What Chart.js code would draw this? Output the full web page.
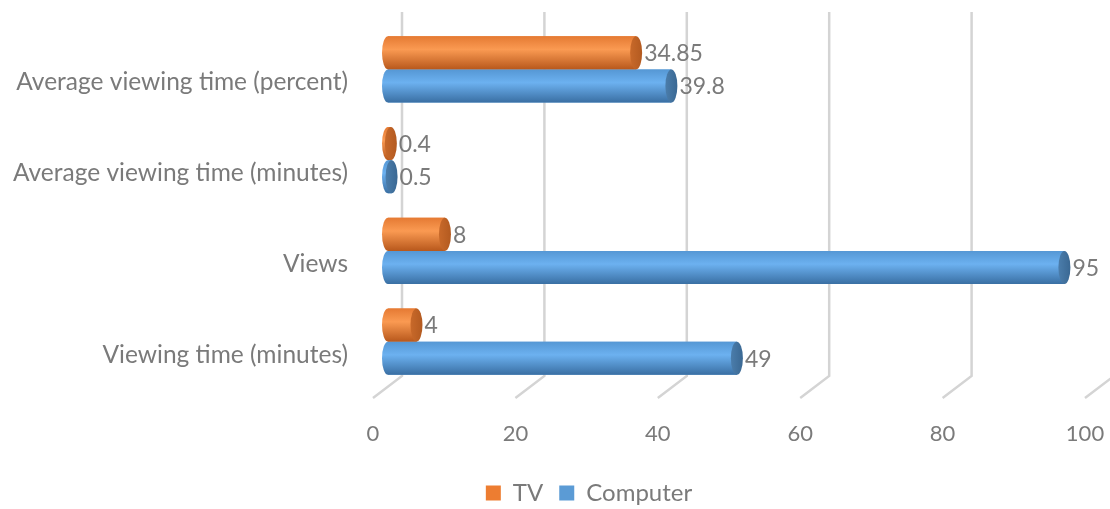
<!DOCTYPE html>
<html>
<head>
<meta charset="utf-8">
<script src="https://cdn.jsdelivr.net/npm/chart.js@4.4.1/dist/chart.umd.min.js"></script>
<style>
  html, body { margin: 0; padding: 0; background: #fff; }
  #wrap { width: 1110px; height: 509px; }
</style>
</head>
<body>
<div id="wrap"><canvas id="chart" width="1110" height="509"></canvas></div>
<script>
// data
const categories = ["Average viewing time (percent)", "Average viewing time (minutes)", "Views", "Viewing time (minutes)"];
const tvValues = [34.85, 0.4, 8, 4];
const computerValues = [39.8, 0.5, 95, 49];
const xTicks = [0, 20, 40, 60, 80, 100];

const FONT = "Lato";
const GRAY = "#7a7a7a";

// shades for the cylinder look
const shades = {
  TV: { top: "#e57a33", mid: "#fa9a52", bottom: "#b8581c", cap: "#b35a20", capLight: "#c8692a" },
  Computer: { top: "#5597d4", mid: "#6cb1f0", bottom: "#3a6fa3", cap: "#3a6893", capLight: "#4b7dab" }
};

// scales must not push the plot area around with their label overhang
function noPad(scale) {
  scale.paddingTop = 0; scale.paddingBottom = 0;
  scale.paddingLeft = 0; scale.paddingRight = 0;
}

// legend sits a bit right of the canvas centre in the original
const legendShift = {
  id: "legendShift",
  afterLayout(chart) {
    const lg = chart.legend;
    if (!lg) return;
    lg.left += 78;
    lg.top = 509 - lg.height + 6;
  }
};

// back wall grid lines with the little floor diagonal
const grid3d = {
  id: "grid3d",
  beforeDatasetsDraw(chart) {
    const { ctx, chartArea, scales } = chart;
    ctx.save();
    ctx.strokeStyle = "#d4d4d4";
    ctx.lineWidth = 2.5;
    xTicks.forEach(v => {
      const gx = scales.x.getPixelForValue(v) + 14;
      ctx.beginPath();
      ctx.moveTo(gx, chartArea.top - 12);
      ctx.lineTo(gx, chartArea.bottom - 11);
      ctx.lineTo(gx - 29, chartArea.bottom + 11);
      ctx.stroke();
    });
    ctx.restore();
  }
};

// paint each bar as a cylinder and put its value next to the cap
const cylinders = {
  id: "cylinders",
  afterDatasetsDraw(chart) {
    const ctx = chart.ctx;
    chart.data.datasets.forEach((ds, di) => {
      const meta = chart.getDatasetMeta(di);
      const c = shades[ds.label];
      meta.data.forEach((bar, i) => {
        const h = bar.height, top = bar.y - h / 2, bottom = bar.y + h / 2;
        const rx = 6;
        const g = ctx.createLinearGradient(0, top, 0, bottom);
        g.addColorStop(0, c.top);
        g.addColorStop(0.4, c.mid);
        g.addColorStop(1, c.bottom);
        ctx.save();
        ctx.fillStyle = g;
        ctx.beginPath();
        ctx.moveTo(bar.base, top);
        ctx.lineTo(bar.x, top);
        ctx.lineTo(bar.x, bottom);
        ctx.lineTo(bar.base, bottom);
        ctx.ellipse(bar.base, bar.y, rx, h / 2, 0, Math.PI / 2, Math.PI * 3 / 2);
        ctx.closePath();
        ctx.fill();

        const cg = ctx.createLinearGradient(bar.x - rx, 0, bar.x + rx, 0);
        cg.addColorStop(0, c.capLight);
        cg.addColorStop(1, c.cap);
        ctx.fillStyle = cg;
        ctx.beginPath();
        ctx.ellipse(bar.x, bar.y, rx, h / 2, 0, 0, Math.PI * 2);
        ctx.fill();

        ctx.fillStyle = GRAY;
        ctx.font = "23px " + FONT;
        ctx.textBaseline = "middle";
        ctx.textAlign = "left";
        ctx.fillText(String(ds.data[i]), bar.x + rx + 2, bar.y + 1);
        ctx.restore();
      });
    });
  }
};

new Chart(document.getElementById("chart"), {
  type: "bar",
  data: {
    labels: categories,
    datasets: [
      { label: "TV", data: tvValues, backgroundColor: "#ed7d31" },
      { label: "Computer", data: computerValues, backgroundColor: "#5b9bd5" }
    ]
  },
  options: {
    indexAxis: "y",
    responsive: false,
    animation: false,
    categoryPercentage: 0.73,
    barPercentage: 1,
    layout: { padding: { top: 24, right: 10, left: 0, bottom: 2 } },
    plugins: {
      tooltip: { enabled: false },
      legend: {
        position: "bottom",
        labels: { boxWidth: 15, boxHeight: 15, padding: 16, color: GRAY, font: { family: FONT, size: 24 } }
      }
    },
    scales: {
      x: {
        min: 0, max: 100,
        grid: { display: false, drawTicks: false },
        border: { display: false },
        ticks: { stepSize: 20, labelOffset: -15, padding: 34, color: GRAY, font: { family: FONT, size: 22 } },
        afterFit(scale) {
          noPad(scale);
          const lh = scale.chart.legend ? scale.chart.legend.height : 40;
          scale.height = 509 - 2 - 387 - lh;
        }
      },
      y: {
        grid: { display: false, drawTicks: false },
        border: { display: false },
        ticks: { padding: 40, labelOffset: 13, color: GRAY, font: { family: FONT, size: 24.5 } },
        afterFit(scale) { noPad(scale); scale.width = 388; }
      }
    }
  },
  plugins: [legendShift, grid3d, cylinders]
});
</script>
</body>
</html>
